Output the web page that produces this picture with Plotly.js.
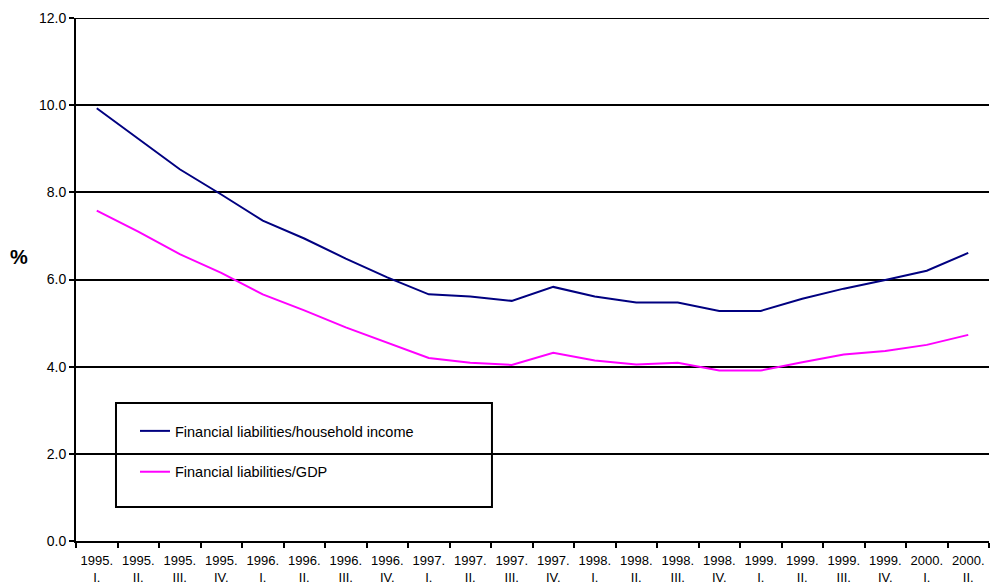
<!DOCTYPE html>
<html>
<head>
<meta charset="utf-8">
<script src="https://cdn.plot.ly/plotly-3.0.1.min.js"></script>
<style>
  html, body { margin: 0; padding: 0; background: #ffffff; }
  #chart { width: 993px; height: 586px; }
</style>
</head>
<body>
<div id="chart"></div>
<script>
// Quarterly periods (year. quarter.)
const quarters = [
  "1995.<br>I.", "1995.<br>II.", "1995.<br>III.", "1995.<br>IV.",
  "1996.<br>I.", "1996.<br>II.", "1996.<br>III.", "1996.<br>IV.",
  "1997.<br>I.", "1997.<br>II.", "1997.<br>III.", "1997.<br>IV.",
  "1998.<br>I.", "1998.<br>II.", "1998.<br>III.", "1998.<br>IV.",
  "1999.<br>I.", "1999.<br>II.", "1999.<br>III.", "1999.<br>IV.",
  "2000.<br>I.", "2000.<br>II."
];

// Financial liabilities relative to household income, %
const liabIncome = [
  9.93, 9.23, 8.53, 7.95, 7.35, 6.94, 6.48, 6.05,
  5.66, 5.61, 5.51, 5.83, 5.61, 5.47, 5.47, 5.28,
  5.28, 5.56, 5.79, 5.99, 6.20, 6.61
];

// Financial liabilities relative to GDP, %
const liabGDP = [
  7.58, 7.10, 6.58, 6.15, 5.66, 5.29, 4.90, 4.55,
  4.20, 4.09, 4.04, 4.32, 4.14, 4.05, 4.09, 3.91,
  3.91, 4.10, 4.28, 4.36, 4.50, 4.73
];

const seriesNames = [
  "Financial liabilities/household income",
  "Financial liabilities/GDP"
];

const yTicks = [0, 2, 4, 6, 8, 10, 12];

const traces = [
  {
    x: quarters, y: liabIncome, name: seriesNames[0],
    type: "scatter", mode: "lines", legendgroup: "a",
    line: { color: "#000080", width: 2 }
  },
  {
    x: quarters, y: liabGDP, name: seriesNames[1],
    type: "scatter", mode: "lines", legendgroup: "b",
    line: { color: "#ff00ff", width: 2 }
  }
];

const layout = {
  width: 993,
  height: 586,
  margin: { l: 76, r: 4, t: 18, b: 45 },
  paper_bgcolor: "#ffffff",
  plot_bgcolor: "#ffffff",
  font: { family: "Arial, 'Liberation Sans', sans-serif", color: "#000000", size: 13 },
  showlegend: true,
  legend: {
    x: 0.0646, y: 0.241, xanchor: "left", yanchor: "top",
    bgcolor: "rgba(0,0,0,0)", borderwidth: 0,
    traceorder: "grouped", tracegroupgap: 19,
    font: { size: 14.5 }, itemwidth: 30
  },
  xaxis: {
    type: "category",
    range: [-0.5, quarters.length - 0.5],
    tickson: "boundaries",
    ticks: "outside", ticklen: 5, tickwidth: 2, tickcolor: "#000000",
    ticklabelstandoff: 6,
    showline: true, linecolor: "#000000", linewidth: 2,
    showgrid: false, zeroline: false,
    tickangle: 0,
    tickfont: { size: 13 }
  },
  yaxis: {
    range: [0, 12],
    tickvals: yTicks,
    tickformat: ".1f",
    ticks: "outside", ticklen: 5, tickwidth: 2, tickcolor: "#000000",
    showline: true, linecolor: "#000000", linewidth: 2,
    showgrid: true, gridcolor: "#000000", gridwidth: 2,
    zeroline: false,
    tickfont: { size: 14 }
  },
  annotations: [
    {
      text: "<b>%</b>", xref: "paper", yref: "paper",
      x: -0.0624, y: 0.543, xanchor: "center", yanchor: "middle",
      showarrow: false, font: { size: 20 }
    }
  ],
  shapes: [
    // top gridline at 12.0
    {
      type: "line", xref: "paper", yref: "y",
      x0: 0, x1: 1, y0: 12, y1: 12,
      line: { color: "#000000", width: 2 }
    },
    // legend frame
    {
      type: "rect", xref: "paper", yref: "paper", layer: "below",
      x0: 0.0438, x1: 0.4556, y0: 0.0650, y1: 0.2639,
      line: { color: "#000000", width: 2 },
      fillcolor: "#ffffff"
    }
  ]
};

Plotly.newPlot("chart", traces, layout, { displayModeBar: false, staticPlot: true });
</script>
</body>
</html>
